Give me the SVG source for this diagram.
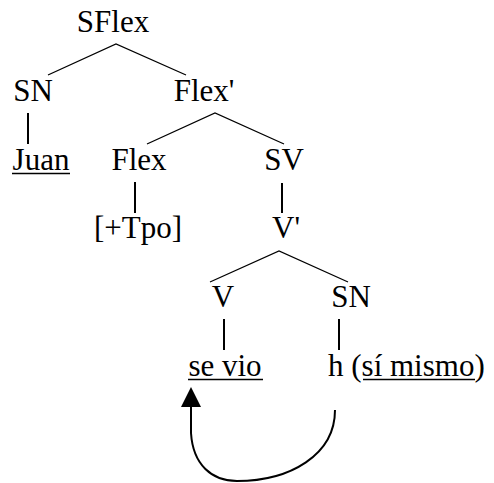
<svg xmlns="http://www.w3.org/2000/svg" width="494" height="483" viewBox="0 0 494 483">
  <style>
    text { font-family: "Liberation Serif", "Times New Roman", serif; font-size: 31px; fill: #000; }
    .lbl { text-anchor: middle; }
    .edge { stroke: #000; stroke-width: 1.3; fill: none; }
    .stem { stroke: #000; stroke-width: 2; fill: none; }
    .ul { stroke: #000; stroke-width: 1.5; }
  </style>
  <rect width="494" height="483" fill="#fff"/>

  <g id="connectors">
    <polyline class="edge" points="48,75 116,44 186,75"/>
    <polyline class="edge" points="147,144 215,113 284,144"/>
    <polyline class="edge" points="210,282 279,251 348,282"/>
    <line class="stem" x1="28" y1="113" x2="28" y2="144"/>
    <line class="stem" x1="135" y1="182" x2="135" y2="213"/>
    <line class="stem" x1="282" y1="183" x2="282" y2="213"/>
    <line class="stem" x1="224" y1="319" x2="224" y2="350"/>
    <line class="stem" x1="339" y1="319" x2="339" y2="350"/>
    <!-- binding arrow from the trace back to the clitic verb -->
    <path class="stem" d="M335,410 C335,455 290,481 237,481 C212,481 193,465 191,433 L191,404"/>
    <polygon points="191,387 181,407 201,407" fill="#000"/>
  </g>

  <g id="sflex"><text class="lbl" x="113" y="32">SFlex</text></g>
  <g id="sn1"><text class="lbl" x="33" y="101">SN</text></g>
  <g id="flexbar"><text class="lbl" x="204" y="101">Flex'</text></g>
  <g id="juan">
    <text class="lbl" x="41" y="170">Juan</text>
    <line class="ul" x1="12" y1="173.5" x2="70" y2="173.5"/>
  </g>
  <g id="flex"><text class="lbl" x="139" y="170">Flex</text></g>
  <g id="sv"><text class="lbl" x="284" y="170">SV</text></g>
  <g id="tpo"><text class="lbl" x="138" y="238">[+Tpo]</text></g>
  <g id="vbar"><text class="lbl" x="286" y="238">V'</text></g>
  <g id="v"><text class="lbl" x="223" y="307">V</text></g>
  <g id="sn2"><text class="lbl" x="351" y="307">SN</text></g>
  <g id="sevio">
    <text class="lbl" x="225" y="376">se vio</text>
    <line class="ul" x1="188" y1="379.5" x2="263" y2="379.5"/>
  </g>
  <g id="trace">
    <text x="328" y="376">h (sí mismo)</text>
    <line class="ul" x1="363" y1="379.5" x2="475" y2="379.5"/>
  </g>
</svg>
